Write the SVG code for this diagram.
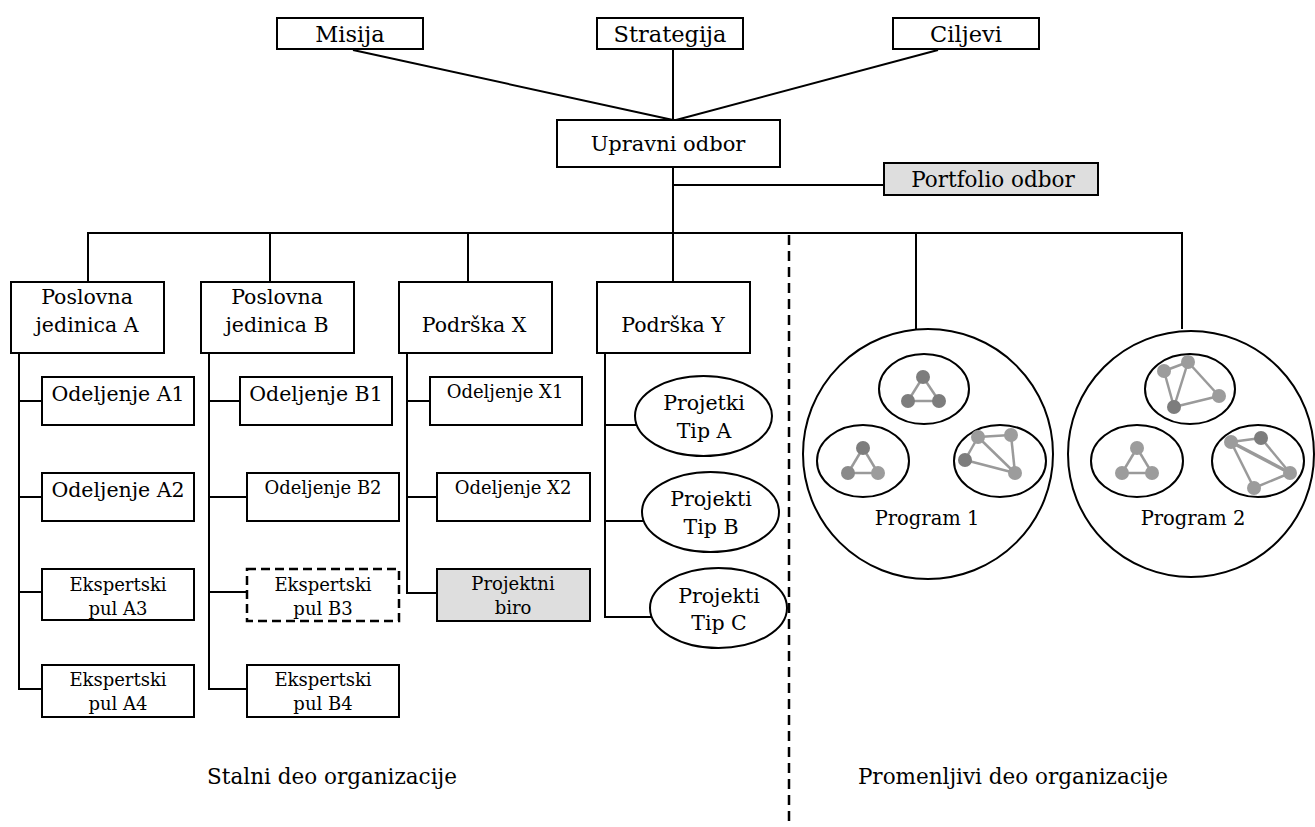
<svg xmlns="http://www.w3.org/2000/svg" width="1315" height="827" viewBox="0 0 1315 827">
  <style>
    .box { fill: #ffffff; stroke: #000000; stroke-width: 2; }
    .grey { fill: #dedede; }
    .dash { stroke-dasharray: 9 5; stroke-width: 2.5; }
    .ell { fill: #ffffff; stroke: #000000; stroke-width: 2; }
    .wire { stroke: #000000; stroke-width: 2; fill: none; }
    .sep { stroke: #000000; stroke-width: 2.5; stroke-dasharray: 10 6; fill: none; }
    text { fill: #000000; text-anchor: middle; font-family: "DejaVu Serif", serif; }
    .top { font-size: 22.5px; }
    .lg { font-size: 21px; }
    .pf { font-size: 21.5px; }
    .md { font-size: 20.5px; }
    .sm { font-size: 18px; }
    .pg { font-size: 19.5px; }
    .cap { font-size: 21.5px; }
    .net line { stroke: #9a9a9a; stroke-width: 2.5; }
    .d1 { fill: #7d7d7d; }
    .d2 { fill: #8a8a8a; }
    .d3 { fill: #9c9c9c; }
  </style>

  <!-- connectors -->
  <g id="connectors">
    <line class="wire" x1="353" y1="50" x2="673" y2="120"/>
    <line class="wire" x1="673" y1="50" x2="673" y2="120"/>
    <line class="wire" x1="938" y1="50" x2="676" y2="120"/>
    <line class="wire" x1="673" y1="167" x2="673" y2="233"/>
    <line class="wire" x1="673" y1="185" x2="884" y2="185"/>
    <line class="wire" x1="87" y1="233" x2="1183" y2="233"/>
    <line class="wire" x1="88" y1="233" x2="88" y2="282"/>
    <line class="wire" x1="270" y1="233" x2="270" y2="282"/>
    <line class="wire" x1="468" y1="233" x2="468" y2="282"/>
    <line class="wire" x1="673" y1="233" x2="673" y2="282"/>
    <line class="wire" x1="916" y1="233" x2="916" y2="329"/>
    <line class="wire" x1="1182" y1="233" x2="1182" y2="329"/>
    <!-- Poslovna jedinica A -->
    <polyline class="wire" points="19,353 19,689 42,689"/>
    <line class="wire" x1="19" y1="401" x2="42" y2="401"/>
    <line class="wire" x1="19" y1="497" x2="42" y2="497"/>
    <line class="wire" x1="19" y1="592" x2="42" y2="592"/>
    <!-- Poslovna jedinica B -->
    <polyline class="wire" points="209,353 209,689 247,689"/>
    <line class="wire" x1="209" y1="401" x2="240" y2="401"/>
    <line class="wire" x1="209" y1="497" x2="247" y2="497"/>
    <line class="wire" x1="209" y1="592" x2="247" y2="592"/>
    <!-- Podrška X -->
    <polyline class="wire" points="407,353 407,593 437,593"/>
    <line class="wire" x1="407" y1="401" x2="430" y2="401"/>
    <line class="wire" x1="407" y1="497" x2="437" y2="497"/>
    <!-- Podrška Y -->
    <polyline class="wire" points="605,353 605,617 652,617"/>
    <line class="wire" x1="605" y1="425" x2="637" y2="425"/>
    <line class="wire" x1="605" y1="521" x2="644" y2="521"/>
    <!-- boundary between the permanent and the changing part -->
    <line class="sep" x1="789" y1="235" x2="789" y2="827"/>
  </g>

  <!-- top level -->
  <g id="misija"><rect class="box" x="277" y="18" width="146" height="31"/><text class="top" x="350" y="42">Misija</text></g>
  <g id="strategija"><rect class="box" x="597" y="18" width="146" height="31"/><text class="top" x="670" y="42">Strategija</text></g>
  <g id="ciljevi"><rect class="box" x="893" y="18" width="146" height="31"/><text class="top" x="966" y="42">Ciljevi</text></g>
  <g id="upravni-odbor"><rect class="box" x="557" y="120" width="223" height="47"/><text class="lg" x="668" y="151">Upravni odbor</text></g>
  <g id="portfolio-odbor"><rect class="box grey" x="884" y="163" width="214" height="32"/><text class="pf" x="993" y="187">Portfolio odbor</text></g>

  <!-- permanent units -->
  <g id="poslovna-a"><rect class="box" x="11" y="282" width="153" height="71"/><text class="md" x="87" y="304">Poslovna</text><text class="md" x="87" y="332">jedinica A</text></g>
  <g id="poslovna-b"><rect class="box" x="201" y="282" width="153" height="71"/><text class="md" x="277" y="304">Poslovna</text><text class="md" x="277" y="332">jedinica B</text></g>
  <g id="podrska-x"><rect class="box" x="399" y="282" width="153" height="71"/><text class="md" x="474" y="332">Podrška X</text></g>
  <g id="podrska-y"><rect class="box" x="597" y="282" width="153" height="71"/><text class="md" x="673" y="332">Podrška Y</text></g>

  <g id="odeljenje-a1"><rect class="box" x="42" y="377" width="152" height="48"/><text class="md" x="118" y="401">Odeljenje A1</text></g>
  <g id="odeljenje-a2"><rect class="box" x="42" y="473" width="152" height="48"/><text class="md" x="118" y="497">Odeljenje A2</text></g>
  <g id="ekspertski-a3"><rect class="box" x="42" y="569" width="152" height="51"/><text class="sm" x="118" y="591">Ekspertski</text><text class="sm" x="118" y="615">pul A3</text></g>
  <g id="ekspertski-a4"><rect class="box" x="42" y="665" width="152" height="52"/><text class="sm" x="118" y="686">Ekspertski</text><text class="sm" x="118" y="710">pul A4</text></g>

  <g id="odeljenje-b1"><rect class="box" x="240" y="377" width="152" height="48"/><text class="md" x="316" y="401">Odeljenje B1</text></g>
  <g id="odeljenje-b2"><rect class="box" x="247" y="473" width="152" height="48"/><text class="sm" x="323" y="494">Odeljenje B2</text></g>
  <g id="ekspertski-b3"><rect class="box dash" x="247" y="569" width="152" height="52"/><text class="sm" x="323" y="591">Ekspertski</text><text class="sm" x="323" y="615">pul B3</text></g>
  <g id="ekspertski-b4"><rect class="box" x="247" y="665" width="152" height="52"/><text class="sm" x="323" y="686">Ekspertski</text><text class="sm" x="323" y="710">pul B4</text></g>

  <g id="odeljenje-x1"><rect class="box" x="430" y="377" width="152" height="48"/><text class="sm" x="505" y="398">Odeljenje X1</text></g>
  <g id="odeljenje-x2"><rect class="box" x="437" y="473" width="153" height="48"/><text class="sm" x="513" y="494">Odeljenje X2</text></g>
  <g id="projektni-biro"><rect class="box grey" x="437" y="569" width="153" height="52"/><text class="sm" x="513" y="590">Projektni</text><text class="sm" x="513" y="614">biro</text></g>

  <g id="projekti-tip-a"><ellipse class="ell" cx="703.5" cy="416" rx="68.5" ry="40"/><text class="md" x="704" y="410">Projetki</text><text class="md" x="704" y="438">Tip A</text></g>
  <g id="projekti-tip-b"><ellipse class="ell" cx="710.5" cy="512" rx="68.5" ry="40"/><text class="md" x="711" y="506">Projekti</text><text class="md" x="711" y="534">Tip B</text></g>
  <g id="projekti-tip-c"><ellipse class="ell" cx="718.5" cy="608" rx="68.5" ry="40"/><text class="md" x="719" y="603">Projekti</text><text class="md" x="719" y="630">Tip C</text></g>

  <!-- programs -->
  <g id="program-1">
    <circle class="ell" cx="928" cy="454" r="125"/>
    <ellipse class="ell" cx="924" cy="389" rx="45" ry="35"/>
    <ellipse class="ell" cx="863" cy="461" rx="46" ry="36"/>
    <ellipse class="ell" cx="1000" cy="461" rx="46" ry="36"/>
    <g class="net">
      <line x1="923" y1="377" x2="908" y2="401"/><line x1="923" y1="377" x2="939" y2="401"/><line x1="908" y1="401" x2="939" y2="401"/>
      <circle class="d1" cx="923" cy="377" r="7"/><circle class="d1" cx="908" cy="401" r="7"/><circle class="d1" cx="939" cy="401" r="7"/>
    </g>
    <g class="net">
      <line x1="863" y1="448" x2="848" y2="473"/><line x1="863" y1="448" x2="878" y2="473"/><line x1="848" y1="473" x2="878" y2="473"/>
      <circle class="d1" cx="863" cy="448" r="7"/><circle class="d2" cx="848" cy="473" r="7"/><circle class="d3" cx="878" cy="473" r="7"/>
    </g>
    <g class="net">
      <line x1="978" y1="437" x2="1011" y2="435"/><line x1="1011" y1="435" x2="1015" y2="473"/><line x1="978" y1="437" x2="1015" y2="473"/><line x1="978" y1="437" x2="965" y2="460"/><line x1="965" y1="460" x2="1015" y2="473"/>
      <circle class="d3" cx="978" cy="437" r="7"/><circle class="d3" cx="1011" cy="435" r="7"/><circle class="d1" cx="965" cy="460" r="7"/><circle class="d3" cx="1015" cy="473" r="7"/>
    </g>
    <text class="pg" x="927" y="525">Program 1</text>
  </g>

  <g id="program-2">
    <circle class="ell" cx="1191" cy="454" r="123"/>
    <ellipse class="ell" cx="1190" cy="389" rx="45" ry="35"/>
    <ellipse class="ell" cx="1137" cy="461" rx="46" ry="36"/>
    <ellipse class="ell" cx="1258" cy="461" rx="46" ry="36"/>
    <g class="net">
      <line x1="1164" y1="371" x2="1188" y2="362"/><line x1="1164" y1="371" x2="1174" y2="407"/><line x1="1188" y1="362" x2="1174" y2="407"/><line x1="1188" y1="362" x2="1219" y2="396"/><line x1="1174" y1="407" x2="1219" y2="396"/>
      <circle class="d3" cx="1164" cy="371" r="7"/><circle class="d3" cx="1188" cy="362" r="7"/><circle class="d3" cx="1219" cy="396" r="7"/><circle class="d1" cx="1174" cy="407" r="7"/>
    </g>
    <g class="net">
      <line x1="1137" y1="448" x2="1122" y2="473"/><line x1="1137" y1="448" x2="1152" y2="473"/><line x1="1122" y1="473" x2="1152" y2="473"/>
      <circle class="d3" cx="1137" cy="448" r="7"/><circle class="d3" cx="1122" cy="473" r="7"/><circle class="d3" cx="1152" cy="473" r="7"/>
    </g>
    <g class="net">
      <line x1="1231" y1="442" x2="1261" y2="438"/><line x1="1261" y1="438" x2="1290" y2="473"/><line x1="1231" y1="442" x2="1290" y2="473" style="stroke-width:3.5"/><line x1="1231" y1="442" x2="1254" y2="488"/><line x1="1254" y1="488" x2="1290" y2="473"/>
      <circle class="d3" cx="1231" cy="442" r="7"/><circle class="d1" cx="1261" cy="438" r="7"/><circle class="d3" cx="1290" cy="473" r="7"/><circle class="d3" cx="1254" cy="488" r="7"/>
    </g>
    <text class="pg" x="1193" y="525">Program 2</text>
  </g>

  <!-- section captions -->
  <text class="cap" x="332" y="784">Stalni deo organizacije</text>
  <text class="cap" x="1013" y="784">Promenljivi deo organizacije</text>
</svg>
